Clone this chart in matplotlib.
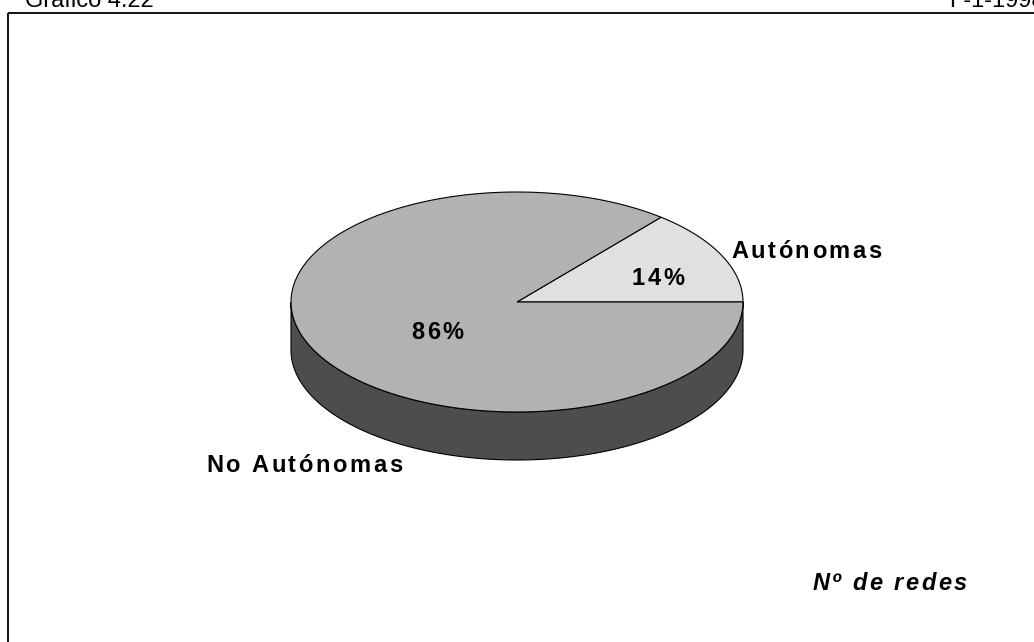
import numpy as np
import matplotlib
matplotlib.use("Agg")
import matplotlib.pyplot as plt
from matplotlib.patches import Polygon, Rectangle

plt.rcParams['font.family'] = ['Liberation Sans', 'DejaVu Sans']

labels = ["Autónomas", "No Autónomas"]
shares = [14, 86]
top_colors = ["#e0e0e0", "#b2b2b2"]
side_color = "#4d4d4d"

fig = plt.figure(figsize=(10.34, 6.42), dpi=100)
ax = fig.add_axes([0, 0, 1, 1])
ax.set_xlim(0, 1034)
ax.set_ylim(642, 0)
ax.axis("off")
renderer = fig.canvas.get_renderer()


def tracked(x, y, s, ha="left", track=2.5, **kw):
    # draw text char by char with extra letter spacing (1 data unit = 1 px)
    widths = []
    for ch in s:
        t = ax.text(0, 0, ch, **kw)
        widths.append(t.get_window_extent(renderer).width)
        t.remove()
    total = sum(widths) + track * (len(s) - 1)
    if ha == "center":
        x -= total / 2
    elif ha == "right":
        x -= total
    for ch, w in zip(s, widths):
        ax.text(x, y, ch, ha="left", va="center", **kw)
        x += w + track


# frame and cut header
ax.add_patch(Rectangle((8, 13), 1040, 640, fill=False, lw=1.3, ec="black"))
ax.text(25, 1, "Gráfico 4.22", fontsize=17, va="center", ha="left")
ax.text(1045, 1, "F-1-1998", fontsize=17, va="center", ha="right")

# 3d pie geometry
cx, cy, rx, ry, depth = 517, 302, 226, 110, 48


def pt(a, dy=0):
    return cx + rx * np.cos(a), cy - ry * np.sin(a) + dy


# side wall (front half, angles pi..2pi)
t = np.linspace(np.pi, 2 * np.pi, 200)
xs, ys = pt(t)
xb, yb = pt(t[::-1], depth)
side = np.column_stack([np.r_[xs, xb], np.r_[ys, yb]])
ax.add_patch(Polygon(side, closed=True, fc=side_color, ec="black", lw=0.8))

# top slices, starting at 0 deg going counter-clockwise
start = 0.0
mids = []
for val, col in zip(shares, top_colors):
    ang = 2 * np.pi * val / sum(shares)
    t = np.linspace(start, start + ang, 200)
    xs, ys = pt(t)
    poly = np.column_stack([np.r_[cx, xs], np.r_[cy, ys]])
    ax.add_patch(Polygon(poly, closed=True, fc=col, ec="black", lw=0.8))
    mids.append(start + ang / 2)
    start += ang

bold = dict(fontsize=17, fontweight="bold", color="black")
# percentage labels
mx, my = pt(mids[0])
tracked(cx + (mx - cx) * 0.69, cy + (my - cy) * 0.69 + 9,
        f"{shares[0]}%", ha="center", **bold)
mx, my = pt(mids[1])
tracked(cx + (mx - cx) * 0.39, cy + (my - cy) * 0.39 + 12,
        f"{shares[1]}%", ha="center", **bold)

# category labels
tracked(731, 251, labels[0], **bold)
tracked(206, 466, labels[1], **bold)

tracked(967, 584, "Nº de redes", ha="right", fontstyle="italic", **bold)

fig.savefig("out.png", dpi=100)
